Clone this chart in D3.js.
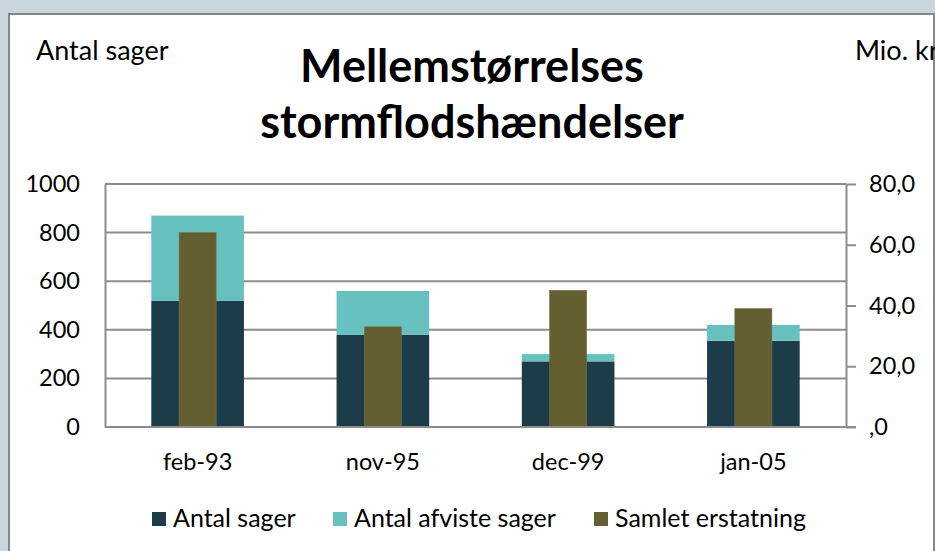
<!DOCTYPE html>
<html>
<head>
<meta charset="utf-8">
<script src="https://cdn.jsdelivr.net/npm/d3@7"></script>
<style>
  html, body { margin: 0; padding: 0; background: #c9d6dd; }
  svg { display: block; font-family: Lato, 'Open Sans', sans-serif; }
</style>
</head>
<body>
<svg id="chart" width="935" height="551"></svg>
<script>
const categories = ['feb-93', 'nov-95', 'dec-99', 'jan-05']
const antalSager = [520, 380, 270, 355]
const afvisteSager = [350, 180, 30, 65]
const samletErstatning = [64, 33, 45, 39]

const leftTicks = [0, 200, 400, 600, 800, 1000]
const rightTicks = [0, 20, 40, 60, 80]
const rightTickLabels = [',0', '20,0', '40,0', '60,0', '80,0']

const seriesNames = ['Antal sager', 'Antal afviste sager', 'Samlet erstatning']
const colors = ['#1b3c48', '#67c2bf', '#635f30']

const svg = d3.select('#chart')

// white chart box, cut off at right and bottom like the screenshot
svg.append('rect')
  .attr('x', 9).attr('y', 14)
  .attr('width', 925).attr('height', 560)
  .attr('fill', '#fff')
  .attr('stroke', '#878787')
  .attr('stroke-width', 2)

const plot = { left: 105, right: 846, top: 184, bottom: 427 }

const x = d3.scaleBand()
  .domain(categories)
  .range([plot.left, plot.right])
  .paddingInner(0.5)
  .paddingOuter(0.25)

const yLeft = d3.scaleLinear().domain([0, 1000]).range([plot.bottom, plot.top])
const yRight = d3.scaleLinear().domain([0, 80]).range([plot.bottom, plot.top])

// gridlines
svg.append('g')
  .selectAll('line')
  .data(leftTicks)
  .join('line')
  .attr('x1', plot.left)
  .attr('x2', plot.right)
  .attr('y1', d => yLeft(d))
  .attr('y2', d => yLeft(d))
  .attr('stroke', '#8c8c8c')
  .attr('stroke-width', 2)

// stacked bars
const stackData = categories.map((c, i) => ({ cat: c, a: antalSager[i], b: afvisteSager[i] }))
const stacked = d3.stack().keys(['a', 'b'])(stackData)

svg.append('g')
  .selectAll('g')
  .data(stacked)
  .join('g')
  .attr('fill', (d, i) => colors[i])
  .selectAll('rect')
  .data(d => d)
  .join('rect')
  .attr('x', d => x(d.data.cat))
  .attr('width', x.bandwidth())
  .attr('y', d => yLeft(d[1]))
  .attr('height', d => yLeft(d[0]) - yLeft(d[1]))

// olive bars on the right axis
const olW = x.bandwidth() * 0.4
svg.append('g')
  .selectAll('rect')
  .data(samletErstatning)
  .join('rect')
  .attr('x', (d, i) => x(categories[i]) + x.bandwidth() / 2 - olW / 2)
  .attr('width', olW)
  .attr('y', d => yRight(d))
  .attr('height', d => plot.bottom - yRight(d))
  .attr('fill', colors[2])
  .attr('stroke', '#77734f')
  .attr('stroke-width', 0.6)

// axes
const left = svg.append('g')
  .attr('transform', `translate(${plot.left},0)`)
  .call(d3.axisLeft(yLeft).tickValues(leftTicks).tickFormat(d3.format('d')).tickSize(0).tickPadding(25))
left.select('.domain').attr('stroke', '#8c8c8c').attr('stroke-width', 2)

const right = svg.append('g')
  .attr('transform', `translate(${plot.right},0)`)
  .call(d3.axisRight(yRight).tickValues(rightTicks).tickSizeInner(10).tickSizeOuter(0).tickPadding(13)
    .tickFormat((d, i) => rightTickLabels[i]))
right.select('.domain').attr('stroke', '#8c8c8c').attr('stroke-width', 2)
right.selectAll('.tick line').attr('stroke', '#8c8c8c').attr('stroke-width', 2)

const bottom = svg.append('g')
  .attr('transform', `translate(0,${plot.bottom})`)
  .call(d3.axisBottom(x).tickSize(0).tickPadding(26))
bottom.select('.domain').attr('stroke', '#8c8c8c').attr('stroke-width', 2)
  .attr('d', `M${plot.left},0H${plot.right + 10}`)

svg.selectAll('.tick text')
  .attr('font-family', 'Lato, sans-serif')
  .attr('font-size', 23.5)
  .attr('fill', '#000')

// titles
const title = svg.append('text')
  .attr('text-anchor', 'middle')
  .attr('font-size', 45)
  .attr('font-weight', 'bold')
title.append('tspan').attr('x', 472).attr('y', 82).text('Mellemstørrelses')
title.append('tspan').attr('x', 472).attr('y', 138).text('stormflodshændelser')

svg.append('text')
  .attr('x', 36).attr('y', 60)
  .attr('font-size', 27)
  .text('Antal sager')

svg.append('text')
  .attr('x', 855).attr('y', 60)
  .attr('font-size', 27)
  .text('Mio. kr.')

// legend
const legendX = [152, 333, 594]
const legend = svg.append('g')
  .selectAll('g')
  .data(seriesNames)
  .join('g')
  .attr('transform', (d, i) => `translate(${legendX[i]},512)`)
legend.append('rect')
  .attr('width', 14).attr('height', 14)
  .attr('fill', (d, i) => colors[i])
legend.append('text')
  .attr('x', 21).attr('y', 15)
  .attr('font-size', 25)
  .text(d => d)

// cover anything spilling past the right border
svg.append('rect')
  .attr('x', 935).attr('y', 0).attr('width', 20).attr('height', 551)
  .attr('fill', '#c9d6dd')
</script>
</body>
</html>
